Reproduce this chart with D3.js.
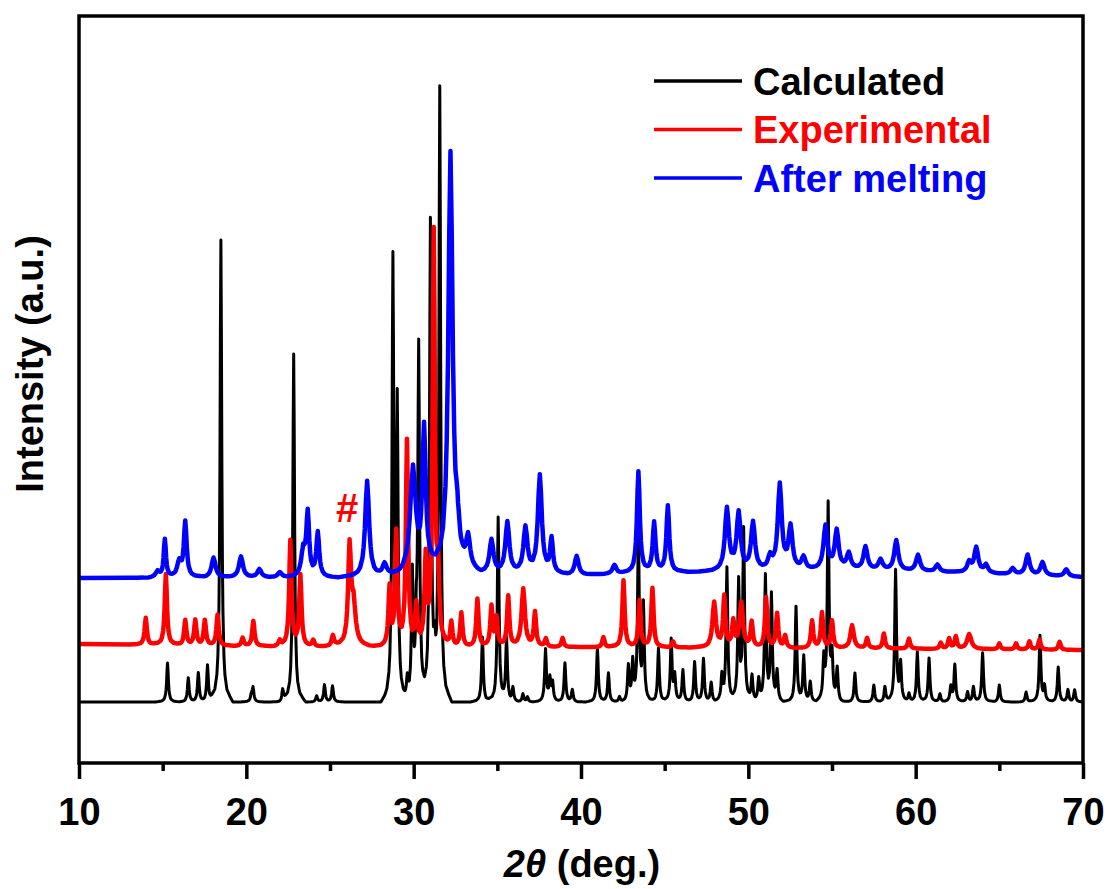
<!DOCTYPE html>
<html>
<head>
<meta charset="utf-8">
<script src="https://cdn.jsdelivr.net/npm/d3@7"></script>
<style>
  body { margin: 0; background: #fff; }
  text { font-family: "Liberation Sans", Arial, sans-serif; font-weight: bold; }
</style>
</head>
<body>
<svg id="chart" width="1109" height="889"></svg>
<script>
// peaks: [2theta, height above baseline, (optional) half width]
var calcPeaks = [
  [15.29, 39], [16.53, 24], [17.13, 29], [17.68, 37], [18.48, 462], [20.3, 6], [20.4, 14],
  [22.17, 12], [22.83, 348], [24.2, 6], [24.67, 17], [25.15, 16],
  [28.76, 435], [29.02, 290], [29.62, 20], [29.92, 125], [30.16, 55], [30.3, 350],
  [31.0, 476], [31.25, 30], [31.56, 610],
  [34.11, 65], [35.05, 184], [35.55, 62], [35.93, 14], [36.53, 8], [36.8, 5],
  [37.88, 52], [38.14, 22], [38.3, 18], [39.04, 39], [39.48, 12],
  [40.98, 54], [41.64, 29], [42.3, 5], [42.83, 35], [43.09, 38], [43.43, 165], [43.73, 95],
  [44.63, 54], [45.39, 62], [45.6, 25], [46.09, 32], [46.79, 40], [47.32, 43], [47.78, 19],
  [48.42, 25], [48.72, 134], [49.42, 118], [49.72, 170], [50.22, 25], [50.62, 22],
  [51.02, 125], [51.38, 106], [51.72, 30], [52.85, 95], [53.31, 45], [53.7, 20],
  [54.51, 40], [54.77, 196], [55.0, 42], [55.31, 32], [56.37, 29], [57.5, 17], [58.16, 15],
  [58.8, 131], [59.1, 37], [59.6, 8], [60.1, 50], [60.8, 44], [61.45, 8], [62.1, 15],
  [62.34, 37], [63.1, 10], [63.45, 15], [64.0, 49], [65.0, 17], [66.6, 10], [67.43, 66],
  [67.7, 15], [68.52, 35], [69.1, 12], [69.5, 12]
];
var expPeaks = [
  [13.99, 27], [15.19, 71], [16.35, 25], [16.95, 25], [17.52, 25], [18.28, 31], [19.78, 8],
  [20.42, 25], [22.0, 5], [22.63, 105], [23.23, 70], [24.0, 6], [25.17, 10],
  [26.17, 95, 0.1], [26.4, 40, 0.15], [28.56, 58], [28.96, 112], [29.6, 205], [30.16, 40],
  [30.72, 85], [31.2, 412], [31.46, 60], [32.25, 25], [32.85, 34], [33.81, 48], [34.65, 40],
  [34.95, 28], [35.65, 50], [36.55, 58, 0.12], [37.25, 34], [37.9, 8], [38.9, 9],
  [41.34, 10], [42.54, 67], [43.5, 47], [44.27, 59], [45.5, 6], [47.96, 45, 0.12],
  [48.56, 50], [49.1, 25], [49.58, 45, 0.12], [50.2, 25], [51.06, 50], [51.72, 34],
  [52.2, 12], [53.81, 27], [54.4, 35], [55.0, 27], [56.2, 23, 0.12], [57.1, 10], [58.1, 15],
  [59.6, 10], [61.5, 6], [62.0, 10], [62.4, 12], [63.2, 15, 0.15], [65.0, 6], [66.0, 6],
  [66.8, 8], [67.4, 10], [68.6, 8]
];
var meltPeaks = [
  [14.7, 6], [15.13, 38, 0.08], [15.99, 15], [16.35, 55, 0.1], [18.04, 20], [19.68, 21],
  [20.78, 8], [22.0, 5], [23.4, 25], [23.67, 62, 0.1], [24.27, 44, 0.1], [27.22, 96],
  [28.26, 11], [29.96, 105, 0.2], [30.62, 140, 0.12], [32.2, 418, 0.15], [32.62, 30],
  [33.25, 30], [34.65, 33], [35.6, 51], [36.68, 45], [37.54, 98], [38.24, 34, 0.1],
  [39.74, 19], [42.0, 9], [43.43, 101, 0.1], [44.37, 49, 0.1], [45.19, 66, 0.1],
  [48.72, 62], [49.42, 57], [50.28, 48], [51.3, 12], [51.88, 85], [52.52, 42], [53.3, 12],
  [54.61, 43], [55.28, 38], [56.0, 15], [57.0, 23], [57.9, 10], [58.84, 30], [60.14, 16],
  [61.3, 7], [63.2, 10], [63.62, 25], [64.2, 8], [65.8, 6], [66.69, 20], [67.58, 13],
  [69.0, 7]
];
// baselines [2theta, intensity]
var calcBase = [[10, 61], [70, 61]];
var expBase = [[10, 119], [20, 117], [40, 116], [55, 115], [70, 113]];
var meltBase = [[10, 185], [28, 186], [31, 190], [34, 190], [40, 188], [45, 191], [50, 192], [56, 194], [62, 191], [70, 186]];

var seriesNames = ["Calculated", "Experimental", "After melting"];
var seriesColors = ["#000000", "#ff0000", "#0000ff"];
var xMajorTicks = [10, 20, 30, 40, 50, 60, 70];
var xMinorTicks = [15, 25, 35, 45, 55, 65];
var marks = [{ text: "#", x: 26.02, y: 241 }];

var svg = d3.select("#chart");
var margin = { top: 16, right: 26, bottom: 126, left: 79 };
var width = 1109 - margin.left - margin.right;
var height = 889 - margin.top - margin.bottom;

var g = svg.append("g").attr("transform", "translate(" + margin.left + "," + margin.top + ")");

var x = d3.scaleLinear().domain([10, 70]).range([0, width]);
var y = d3.scaleLinear().domain([0, 747]).range([height, 0]);

// lorentz-like peak outline, offsets in units of half width
var shape = [[0, 1], [0.5, 0.8], [1, 0.5], [1.5, 0.31], [2, 0.2], [3, 0.1], [4, 0.059], [6, 0.027], [9, 0.012], [12, 0]];

function shapeAt(u) {
  u = Math.abs(u);
  for (var i = 1; i < shape.length; i++) {
    if (u <= shape[i][0]) {
      var a = shape[i - 1], b = shape[i];
      return a[1] + (b[1] - a[1]) * (u - a[0]) / (b[0] - a[0]);
    }
  }
  return 0;
}

function buildTrace(peaks, base, hw) {
  var xs = base.map(function(d) { return d[0]; });
  peaks.forEach(function(p) {
    var w = p[2] || hw;
    shape.forEach(function(s) {
      xs.push(p[0] - s[0] * w);
      xs.push(p[0] + s[0] * w);
    });
  });
  xs = Array.from(new Set(xs)).filter(function(v) { return v >= 10 && v <= 70; }).sort(d3.ascending);
  var baseScale = d3.scaleLinear()
    .domain(base.map(function(d) { return d[0]; }))
    .range(base.map(function(d) { return d[1]; }));
  return xs.map(function(t) {
    var v = baseScale(t);
    peaks.forEach(function(p) {
      var w = p[2] || hw;
      v += p[1] * shapeAt((t - p[0]) / w);
    });
    return [t, v];
  });
}

var traces = [
  buildTrace(calcPeaks, calcBase, 0.06),
  buildTrace(expPeaks, expBase, 0.08),
  buildTrace(meltPeaks, meltBase, 0.14)
];
var strokeW = [3, 4.5, 4.5];

g.append("clipPath").attr("id", "clip")
  .append("rect").attr("width", width).attr("height", height);

var line = d3.line()
  .x(function(d) { return x(d[0]); })
  .y(function(d) { return y(d[1]); });

g.append("g").attr("clip-path", "url(#clip)")
  .selectAll("path")
  .data(traces)
  .enter()
  .append("path")
  .attr("d", line)
  .attr("fill", "none")
  .attr("stroke", function(d, i) { return seriesColors[i]; })
  .attr("stroke-width", function(d, i) { return strokeW[i]; })
  .attr("stroke-linejoin", "round");

// "#" marker
g.selectAll(".mark")
  .data(marks)
  .enter()
  .append("text")
  .attr("x", function(d) { return x(d.x); })
  .attr("y", function(d) { return y(d.y); })
  .attr("text-anchor", "middle")
  .attr("fill", "#ff0000")
  .style("font-size", "40px")
  .text(function(d) { return d.text; });

// axes
var xAxis = g.append("g")
  .attr("transform", "translate(0," + height + ")")
  .call(d3.axisBottom(x).tickValues(xMajorTicks).tickSize(16).tickPadding(19).tickSizeOuter(0));
xAxis.select(".domain").remove();
xAxis.selectAll("line").attr("stroke-width", 3.5);
xAxis.selectAll("text").style("font-size", "38px").attr("fill", "#000");

var xMinor = g.append("g")
  .attr("transform", "translate(0," + height + ")")
  .call(d3.axisBottom(x).tickValues(xMinorTicks).tickSize(8).tickFormat(""));
xMinor.select(".domain").remove();
xMinor.selectAll("line").attr("stroke-width", 3.5);

// frame
g.append("rect")
  .attr("width", width).attr("height", height)
  .attr("fill", "none").attr("stroke", "#000").attr("stroke-width", 3.5);

// axis titles
var xt = svg.append("text")
  .attr("x", margin.left + width / 2 + 1)
  .attr("y", 877)
  .attr("text-anchor", "middle")
  .style("font-size", "38px");
xt.append("tspan").style("font-style", "italic").text("2\u03b8");
xt.append("tspan").text(" (deg.)");

svg.append("text")
  .attr("transform", "translate(43,364) rotate(-90)")
  .attr("text-anchor", "middle")
  .style("font-size", "38px")
  .text("Intensity (a.u.)");

// legend
var legend = svg.append("g").attr("transform", "translate(654,81)");
var item = legend.selectAll("g")
  .data(seriesNames)
  .enter()
  .append("g")
  .attr("transform", function(d, i) { return "translate(0," + i * 48.5 + ")"; });
item.append("line")
  .attr("x1", 0).attr("x2", 88)
  .attr("stroke", function(d, i) { return seriesColors[i]; })
  .attr("stroke-width", 3.5);
item.append("text")
  .attr("x", 99)
  .attr("y", 13.5)
  .attr("fill", function(d, i) { return seriesColors[i]; })
  .style("font-size", "38px")
  .text(function(d) { return d; });
</script>
</body>
</html>
